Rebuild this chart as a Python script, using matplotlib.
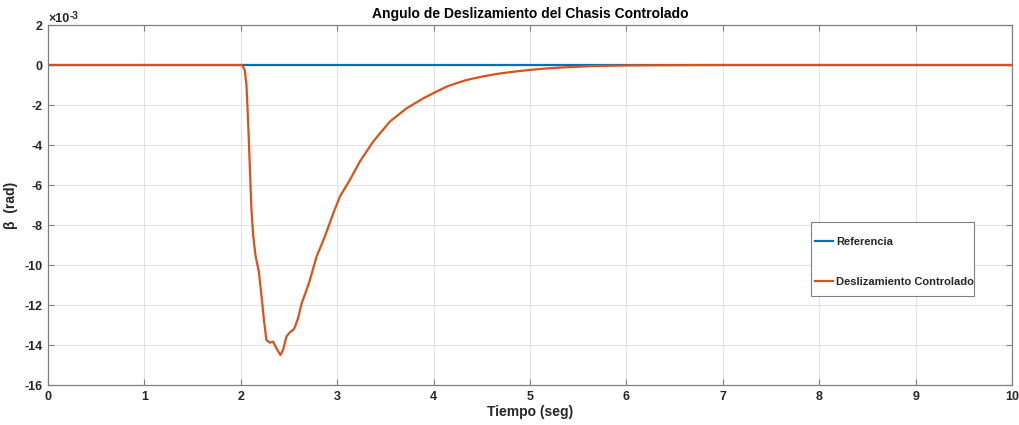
#!/usr/bin/env python3
"""Slip angle of the controlled chassis vs reference."""

import matplotlib

matplotlib.use("Agg")
import matplotlib.pyplot as plt
from matplotlib.patches import Rectangle
from matplotlib.ticker import FuncFormatter

# time samples (s) and slip angle (x1e-3 rad) of the controlled chassis
t_ctrl = [0.0, 2.0, 2.014, 2.041, 2.059, 2.076, 2.093, 2.110, 2.128, 2.152, 2.187,
          2.214, 2.242, 2.266, 2.30, 2.335, 2.37, 2.411, 2.439, 2.473, 2.508,
          2.553, 2.594, 2.631, 2.682, 2.717, 2.786, 2.872, 2.959, 3.028, 3.131,
          3.235, 3.373, 3.546, 3.718, 3.891, 4.029, 4.15, 4.34, 4.5, 4.65, 4.8,
          4.99, 5.15, 5.30, 5.65, 6.0, 6.5, 7.0, 10.0]
beta_ctrl = [0.0, 0.0, 0.0, -0.25, -1.0, -2.83, -5.0, -7.17, -8.5, -9.5, -10.33,
             -11.5, -12.83, -13.75, -13.88, -13.83, -14.17, -14.5, -14.25, -13.58,
             -13.37, -13.2, -12.67, -11.92, -11.25, -10.75, -9.58, -8.58, -7.42,
             -6.58, -5.75, -4.83, -3.83, -2.83, -2.17, -1.67, -1.33, -1.05, -0.75,
             -0.58, -0.45, -0.35, -0.25, -0.18, -0.13, -0.05, -0.02, -0.005, 0.0, 0.0]

# reference slip angle
t_ref = [0.0, 10.0]
beta_ref = [0.0, 0.0]

SCALE = 1e-3

plt.rcParams["font.family"] = ["Liberation Sans", "DejaVu Sans"]
plt.rcParams["font.weight"] = "bold"
plt.rcParams["axes.unicode_minus"] = False

fig = plt.figure(figsize=(10.19, 4.25), dpi=100)
ax = fig.add_axes([0.0471, 0.0941, 0.946, 0.847])

ax.plot(t_ref, [b * SCALE for b in beta_ref], color="#0072BD", lw=1.6, label="Referencia")
ax.plot(t_ctrl, [b * SCALE for b in beta_ctrl], color="#D95319", lw=1.6,
        label="Deslizamiento Controlado", solid_joinstyle="round")

ax.set_xlim(0, 10)
ax.set_ylim(-16 * SCALE, 2 * SCALE)
ax.set_xticks(range(0, 11))
ax.set_yticks([v * SCALE for v in range(-16, 3, 2)])
ax.yaxis.set_major_formatter(FuncFormatter(lambda v, p: f"{round(v / SCALE):d}"))

# exponent label above the y axis
ax.text(0.0, 1.0, "×10", transform=ax.transAxes, ha="left", va="bottom",
        fontsize=9, color="#262626")
ax.text(0.0225, 1.012, "-3", transform=ax.transAxes, ha="left", va="bottom",
        fontsize=7, color="#262626")

ax.grid(True, color="#e3e3e3", lw=0.8)
ax.set_axisbelow(True)
for s in ax.spines.values():
    s.set_color("#808080")
    s.set_linewidth(0.9)
ax.tick_params(direction="in", top=True, right=True, length=4, width=0.8,
               color="#808080", labelsize=9, labelcolor="#262626", pad=4)

ax.set_title("Angulo de Deslizamiento del Chasis Controlado", fontsize=10,
             fontweight="bold", color="black", pad=5)
ax.set_xlabel("Tiempo (seg)", fontsize=10, fontweight="bold", color="#262626", labelpad=2)
ax.set_ylabel("β  (rad)", fontsize=10, fontweight="bold", color="#262626")
ax.yaxis.set_label_coords(-0.031, 0.5)

# legend entries without frame, box drawn separately
leg = ax.legend(loc="upper left", bbox_to_anchor=(0.796, 0.4125), fontsize=8,
                frameon=False, handlelength=1.6, handletextpad=0.27,
                labelspacing=2.75, borderaxespad=0, borderpad=0)
for txt in leg.get_texts():
    txt.set_color("#262626")
ax.add_patch(Rectangle((0.792, 0.247), 0.169, 0.206, transform=ax.transAxes,
                       facecolor="white", edgecolor="#808080", lw=0.8, zorder=4))
leg.set_zorder(5)

fig.savefig("out.png", dpi=100)
